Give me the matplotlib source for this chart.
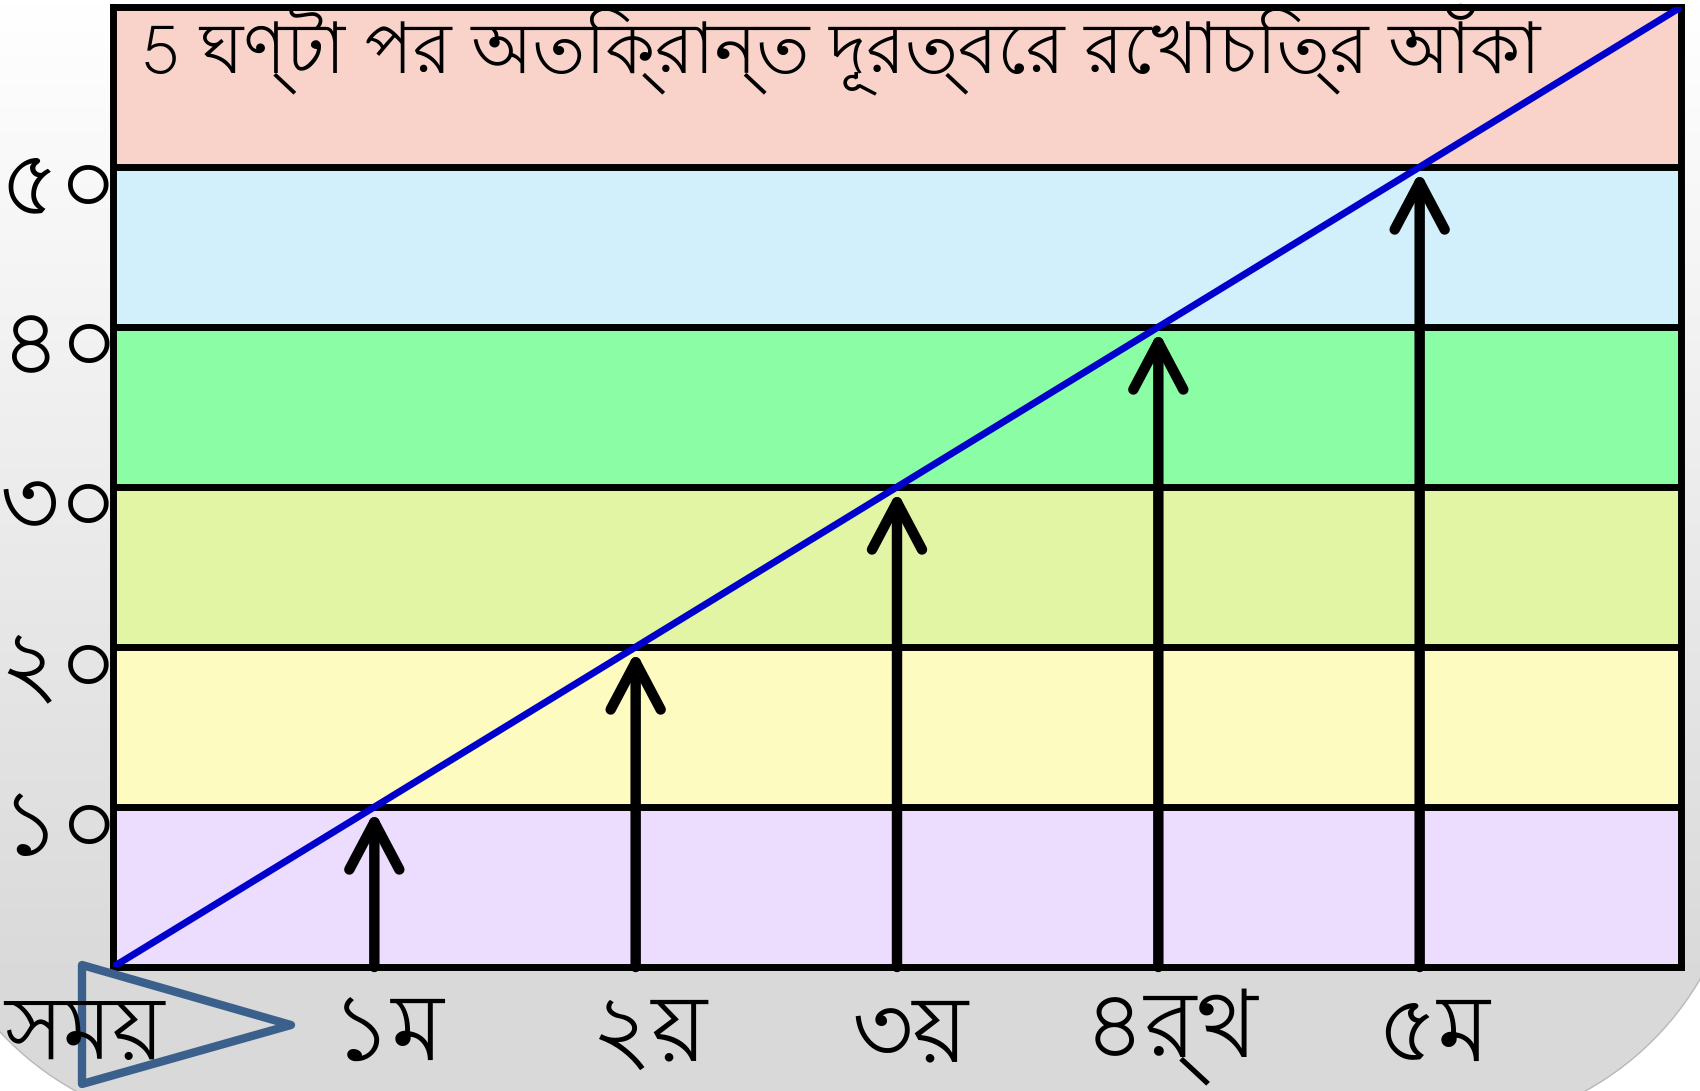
import matplotlib
matplotlib.use("Agg")
import matplotlib.pyplot as plt
import numpy as np
from matplotlib import font_manager
from matplotlib.patches import Polygon
from matplotlib.colors import LinearSegmentedColormap
from matplotlib.transforms import ScaledTranslation

# ── Data ──────────────────────────────────────────────────────────────────────
HOURS      = [1, 2, 3, 4, 5]
DISTANCE   = [10, 20, 30, 40, 50]
LINE_X     = [0, 6]
LINE_Y     = [0, 60]
BAND_EDGES = [0, 10, 20, 30, 40, 50, 60]
Y_TICKS    = [10, 20, 30, 40, 50]
Y_LABELS   = ["১০", "২০", "৩০", "৪০", "৫০"]
# precomposed য় (U+09DF) so the nukta sits on the letter
X_LABELS   = ["১ম", "২\u09df", "৩\u09df", "৪র্থ", "৫ম"]
TITLE      = "5 ঘণ্টা পর অতিক্রান্ত দূরত্বের রেখাচিত্র আঁকা"
X_NAME     = "সম\u09df"

BAND_COLORS = ["#ecdcfe", "#fdfbc0", "#e2f5a5", "#8bfea5", "#d2f0fc", "#f9d3c9"]
BLUE  = "#0000cc"
TRI   = "#3b608c"

# ── Font: find a Bengali face if there is one ─────────────────────────────────
names = sorted({f.name for f in font_manager.fontManager.ttflist})
beng = [n for n in names if "Bengali" in n or "Lohit" in n or "Kalpurush" in n
        or "SolaimanLipi" in n or "Siyam" in n or "Mukti" in n]
FAMILY = beng[:1] + ["DejaVu Sans"]
plt.rcParams["font.family"] = FAMILY

W, H = 1700, 1091
fig = plt.figure(figsize=(W / 100, H / 100), dpi=100, facecolor="white")


def rounded_rect(left, top, right, bottom, r, n=40):
    """Outline of a rounded rectangle in pixel space (y grows downwards)."""
    pts = []
    corners = [(right - r, bottom - r, 0), (left + r, bottom - r, 90),
               (left + r, top + r, 180), (right - r, top + r, 270)]
    for cx, cy, a0 in corners:
        t = np.radians(np.linspace(a0, a0 + 90, n))
        pts.append(np.column_stack([cx + r * np.cos(t), cy + r * np.sin(t)]))
    return np.vstack(pts)


# ── Background: rounded panel with vertical gray gradient ─────────────────────
bg = fig.add_axes([0, 0, 1, 1], zorder=0)
grad = np.clip(np.linspace(0, 1.1, 256), 0, 1)[:, None]
img = bg.imshow(grad, cmap=LinearSegmentedColormap.from_list("g", ["#ffffff", "#d9d9d9"]),
                extent=[0, W, H, 0], aspect="auto", zorder=0)
bg.set_xlim(0, W)
bg.set_ylim(H, 0)
bg.axis("off")
panel = Polygon(rounded_rect(-80, -900, 1741, 1128, 300), closed=True,
                facecolor="none", edgecolor="#b8b8b8", lw=1, transform=bg.transData)
bg.add_patch(panel)
img.set_clip_path(panel)

# ── Main axes ─────────────────────────────────────────────────────────────────
ax = fig.add_axes([113 / W, 1 - 967 / H, (1681 - 113) / W, (967 - 7) / H], zorder=2)
ax.set_xlim(LINE_X[0], LINE_X[1])
ax.set_ylim(BAND_EDGES[0], BAND_EDGES[-1])

for lo, hi, c in zip(BAND_EDGES[:-1], BAND_EDGES[1:], BAND_COLORS):
    ax.axhspan(lo, hi, color=c, zorder=0)
for y in BAND_EDGES[1:-1]:
    ax.axhline(y, color="black", lw=5, zorder=1)
for sp in ax.spines.values():
    sp.set_linewidth(5)
    sp.set_color("black")

ax.plot(LINE_X, LINE_Y, color=BLUE, lw=5, zorder=3, solid_capstyle="butt")

for h, d in zip(HOURS, DISTANCE):
    ax.annotate("", xy=(h, d), xytext=(h, 0),
                arrowprops=dict(arrowstyle="->,head_length=1.7,head_width=0.9",
                                lw=7.5, color="black", shrinkA=0, shrinkB=-3,
                                mutation_scale=20, capstyle="round",
                                joinstyle="round"),
                zorder=4)

ax.set_yticks(Y_TICKS)
ax.set_yticklabels(Y_LABELS, fontsize=66)
ax.set_xticks(HOURS)
ax.set_xticklabels(X_LABELS, fontsize=68)
ax.tick_params(length=0, pad=0)
ax.tick_params(axis="x", pad=16)
for lbl in ax.get_xticklabels():
    lbl.set_transform(lbl.get_transform() + ScaledTranslation(0.13, 0, fig.dpi_scale_trans))
for lbl in ax.get_yticklabels():
    lbl.set_transform(lbl.get_transform() + ScaledTranslation(0.06, -0.12, fig.dpi_scale_trans))

# ── Title and axis name ───────────────────────────────────────────────────────
title = fig.text(141 / W, 1 - 3 / H, TITLE, fontsize=60, va="top", ha="left", zorder=5)
# shrink until it fits the width the reference title takes (about 1400 px)
renderer = fig.canvas.get_renderer()
wpx = title.get_window_extent(renderer).width
if wpx > 1400:
    title.set_fontsize(60 * 1400 / wpx)

tri = Polygon([(82 / W, 1 - 965 / H), (291 / W, 1 - 1025 / H), (82 / W, 1 - 1084 / H)],
              closed=True, facecolor="none", edgecolor=TRI, lw=6, joinstyle="round",
              transform=fig.transFigure, zorder=5)
fig.patches.append(tri)
fig.text(4 / W, 1 - 1034 / H, X_NAME, fontsize=64, va="center", ha="left", zorder=6)

fig.savefig("out.png", dpi=100, facecolor="white")
